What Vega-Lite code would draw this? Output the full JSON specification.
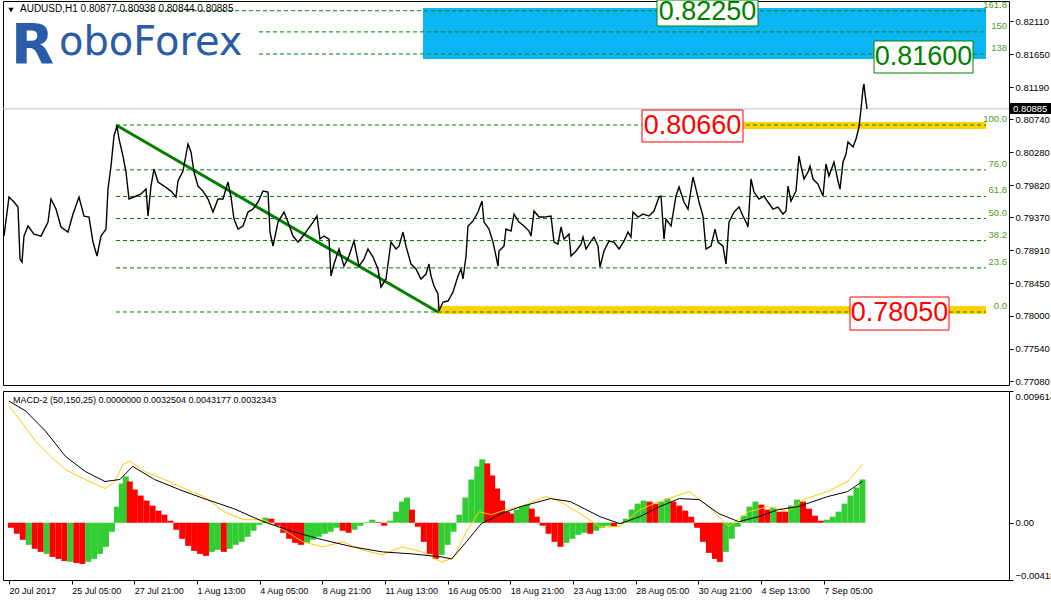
{
"$schema": "https://vega.github.io/schema/vega-lite/v6.json",
"padding": {"left": 0, "top": -3, "right": 0, "bottom": 0},
"background": "white",
"spacing": 3,
"config": {
  "view": {"stroke": "black", "strokeWidth": 1},
  "axis": {"labelFont": "Liberation Sans", "labelFontSize": 9.5, "labelColor": "black", "domainColor": "black", "tickColor": "black", "grid": false, "title": null},
  "text": {"font": "Liberation Sans"}
},
"resolve": {"scale": {"x": "independent", "y": "independent", "color": "independent", "stroke": "independent"}},
"datasets": {
  "price": [
{"x":3,"p":0.79110},{"x":8,"p":0.79655},{"x":13,"p":0.79585},{"x":17,"p":0.79515},{"x":19,"p":0.78789},{"x":21,"p":0.78747},{"x":23,"p":0.79110},{"x":27,"p":0.79250},{"x":33,"p":0.79138},{"x":40,"p":0.79110},{"x":47,"p":0.79305},{"x":50,"p":0.79627},{"x":55,"p":0.79487},{"x":60,"p":0.79236},{"x":67,"p":0.79166},{"x":72,"p":0.79417},{"x":78,"p":0.79655},{"x":83,"p":0.79389},{"x":88,"p":0.79375},{"x":92,"p":0.79026},{"x":96,"p":0.78831},{"x":100,"p":0.79110},{"x":105,"p":0.79208},{"x":107,"p":0.79766},{"x":110,"p":0.80088},{"x":113,"p":0.80507},{"x":116,"p":0.80646},{"x":118,"p":0.80465},{"x":122,"p":0.80227},{"x":125,"p":0.80004},{"x":128,"p":0.79627},{"x":133,"p":0.79655},{"x":140,"p":0.79697},{"x":145,"p":0.79766},{"x":147,"p":0.79389},{"x":150,"p":0.79808},{"x":153,"p":0.80046},{"x":157,"p":0.79864},{"x":163,"p":0.79808},{"x":170,"p":0.79738},{"x":175,"p":0.79655},{"x":177,"p":0.79878},{"x":182,"p":0.80018},{"x":187,"p":0.80395},{"x":190,"p":0.80283},{"x":193,"p":0.80004},{"x":197,"p":0.79808},{"x":202,"p":0.79738},{"x":207,"p":0.79627},{"x":212,"p":0.79445},{"x":217,"p":0.79627},{"x":222,"p":0.79627},{"x":227,"p":0.79864},{"x":230,"p":0.79655},{"x":233,"p":0.79347},{"x":237,"p":0.79208},{"x":242,"p":0.79250},{"x":247,"p":0.79445},{"x":252,"p":0.79487},{"x":257,"p":0.79585},{"x":262,"p":0.79738},{"x":267,"p":0.79724},{"x":269,"p":0.79166},{"x":272,"p":0.78970},{"x":277,"p":0.79305},{"x":283,"p":0.79445},{"x":287,"p":0.79305},{"x":292,"p":0.79110},{"x":297,"p":0.79026},{"x":302,"p":0.79110},{"x":307,"p":0.79208},{"x":312,"p":0.79305},{"x":316,"p":0.79389},{"x":319,"p":0.79068},{"x":323,"p":0.79110},{"x":328,"p":0.79068},{"x":330,"p":0.78552},{"x":333,"p":0.78719},{"x":338,"p":0.78929},{"x":343,"p":0.78691},{"x":348,"p":0.78831},{"x":353,"p":0.79040},{"x":358,"p":0.78691},{"x":363,"p":0.78789},{"x":367,"p":0.78929},{"x":372,"p":0.78817},{"x":377,"p":0.78650},{"x":380,"p":0.78399},{"x":385,"p":0.78511},{"x":390,"p":0.79026},{"x":395,"p":0.78929},{"x":398,"p":0.78970},{"x":402,"p":0.79166},{"x":405,"p":0.78970},{"x":410,"p":0.78719},{"x":415,"p":0.78650},{"x":420,"p":0.78511},{"x":425,"p":0.78580},{"x":428,"p":0.78719},{"x":430,"p":0.78552},{"x":433,"p":0.78413},{"x":437,"p":0.78301},{"x":438,"p":0.78064},{"x":442,"p":0.78189},{"x":447,"p":0.78203},{"x":452,"p":0.78329},{"x":457,"p":0.78552},{"x":460,"p":0.78650},{"x":462,"p":0.78511},{"x":465,"p":0.78831},{"x":467,"p":0.79250},{"x":472,"p":0.79319},{"x":477,"p":0.79445},{"x":481,"p":0.79599},{"x":483,"p":0.79305},{"x":488,"p":0.79208},{"x":492,"p":0.79026},{"x":495,"p":0.78831},{"x":497,"p":0.78691},{"x":498,"p":0.78901},{"x":503,"p":0.78970},{"x":505,"p":0.79208},{"x":510,"p":0.79180},{"x":513,"p":0.79417},{"x":518,"p":0.79305},{"x":523,"p":0.79250},{"x":528,"p":0.79180},{"x":530,"p":0.79110},{"x":533,"p":0.79459},{"x":538,"p":0.79375},{"x":543,"p":0.79375},{"x":550,"p":0.79389},{"x":553,"p":0.79026},{"x":557,"p":0.78998},{"x":560,"p":0.79236},{"x":563,"p":0.79068},{"x":568,"p":0.79138},{"x":570,"p":0.78831},{"x":575,"p":0.78901},{"x":580,"p":0.78998},{"x":582,"p":0.79096},{"x":585,"p":0.78929},{"x":590,"p":0.79040},{"x":593,"p":0.79096},{"x":597,"p":0.78970},{"x":599,"p":0.78678},{"x":603,"p":0.78901},{"x":608,"p":0.79040},{"x":613,"p":0.79026},{"x":618,"p":0.78929},{"x":623,"p":0.79040},{"x":627,"p":0.79166},{"x":630,"p":0.79096},{"x":632,"p":0.79445},{"x":637,"p":0.79375},{"x":642,"p":0.79417},{"x":648,"p":0.79389},{"x":653,"p":0.79459},{"x":658,"p":0.79655},{"x":660,"p":0.79669},{"x":663,"p":0.79068},{"x":665,"p":0.79347},{"x":670,"p":0.79250},{"x":675,"p":0.79669},{"x":678,"p":0.79794},{"x":683,"p":0.79585},{"x":687,"p":0.79487},{"x":692,"p":0.79934},{"x":695,"p":0.79766},{"x":698,"p":0.79585},{"x":702,"p":0.79389},{"x":705,"p":0.78929},{"x":710,"p":0.78970},{"x":714,"p":0.79208},{"x":717,"p":0.79026},{"x":722,"p":0.78970},{"x":725,"p":0.78719},{"x":728,"p":0.79305},{"x":733,"p":0.79445},{"x":738,"p":0.79515},{"x":742,"p":0.79389},{"x":745,"p":0.79305},{"x":747,"p":0.79236},{"x":750,"p":0.79906},{"x":753,"p":0.79724},{"x":758,"p":0.79627},{"x":763,"p":0.79669},{"x":767,"p":0.79585},{"x":772,"p":0.79487},{"x":777,"p":0.79515},{"x":782,"p":0.79417},{"x":785,"p":0.79459},{"x":787,"p":0.79808},{"x":790,"p":0.79599},{"x":795,"p":0.79738},{"x":798,"p":0.80227},{"x":800,"p":0.80088},{"x":803,"p":0.79906},{"x":807,"p":0.80004},{"x":809,"p":0.80088},{"x":812,"p":0.79906},{"x":817,"p":0.79836},{"x":822,"p":0.79669},{"x":825,"p":0.80116},{"x":828,"p":0.79948},{"x":833,"p":0.80144},{"x":837,"p":0.79878},{"x":839,"p":0.79766},{"x":842,"p":0.80144},{"x":845,"p":0.80255},{"x":847,"p":0.80423},{"x":852,"p":0.80353},{"x":855,"p":0.80465},{"x":858,"p":0.80632},{"x":860,"p":0.80884},{"x":862,"p":0.81163},{"x":863,"p":0.81233},{"x":864,"p":0.81093},{"x":866,"p":0.80885}
  ],
  "fib": [
{"x":115,"x2":985,"p":0.78050},{"x":115,"x2":985,"p":0.78666},{"x":115,"x2":985,"p":0.79047},{"x":115,"x2":985,"p":0.79355},{"x":115,"x2":985,"p":0.79663},{"x":115,"x2":985,"p":0.80034},{"x":115,"x2":985,"p":0.80660},{"x":258,"x2":985,"p":0.81652},{"x":258,"x2":985,"p":0.81960},{"x":115,"x2":985,"p":0.82255}
  ],
  "fibLabels": [
{"x":1006,"p":0.78050,"t":"0.0"},{"x":1006,"p":0.78666,"t":"23.6"},{"x":1006,"p":0.79047,"t":"38.2"},{"x":1006,"p":0.79355,"t":"50.0"},{"x":1006,"p":0.79663,"t":"61.8"},{"x":1006,"p":0.80034,"t":"76.0"},{"x":1006,"p":0.80660,"t":"100.0"},{"x":1006,"p":0.81652,"t":"138"},{"x":1006,"p":0.81960,"t":"150"},{"x":1006,"p":0.82255,"t":"161.8"}
  ],
  "blue": [{"x":422,"x2":985,"p":0.82293,"p2":0.81581}],
  "yellow": [{"x":742,"x2":985,"p":0.80702,"p2":0.80604},{"x":436,"x2":985,"p":0.78133,"p2":0.78022}],
  "cur": [{"x":2,"x2":1008,"p":0.80885}],
  "trend": [{"x":115,"x2":437,"p":0.80660,"p2":0.78050}],
  "boxes": [
{"x":656,"x2":757,"p":0.82405,"p2":0.82042,"c":"g"},{"x":873,"x2":972,"p":0.81833,"p2":0.81386,"c":"g"},{"x":641,"x2":742,"p":0.80869,"p2":0.80423,"c":"r"},{"x":849,"x2":948,"p":0.78259,"p2":0.77798,"c":"r"}
  ],
  "boxTexts": [
{"x":706.5,"p":0.82238,"t":"0.82250","c":"g"},{"x":922.5,"p":0.81609,"t":"0.81600","c":"g"},{"x":691.5,"p":0.80646,"t":"0.80660","c":"r"},{"x":898.5,"p":0.78036,"t":"0.78050","c":"r"}
  ],
  "header": [{"x":19,"p":0.82279,"t":"AUDUSD,H1  0.80877 0.80938 0.80844 0.80885"}],
  "tri": [{"x":10,"p":0.82265}],
  "logoR": [{"x":10,"p":0.81525,"t":"R"}],
  "logoT": [{"x":58,"p":0.81637,"t":"oboForex"}],
  "tagBox": [{"x":1009,"x2":1051,"p":0.80967,"p2":0.80814}],
  "tagText": [{"x":1012,"p":0.80885,"t":"0.80885"}],
  "hist": [
{"x":5,"v":-0.000367,"d":"d"},{"x":11,"v":-0.000807,"d":"d"},{"x":17,"v":-0.001247,"d":"d"},{"x":23,"v":-0.001614,"d":"u"},{"x":29,"v":-0.001908,"d":"d"},{"x":35,"v":-0.002128,"d":"d"},{"x":41,"v":-0.002275,"d":"u"},{"x":47,"v":-0.002495,"d":"d"},{"x":53,"v":-0.002642,"d":"d"},{"x":59,"v":-0.002788,"d":"d"},{"x":65,"v":-0.002862,"d":"u"},{"x":71,"v":-0.002935,"d":"d"},{"x":77,"v":-0.003009,"d":"d"},{"x":83,"v":-0.002862,"d":"u"},{"x":89,"v":-0.002642,"d":"u"},{"x":95,"v":-0.002275,"d":"u"},{"x":101,"v":-0.001761,"d":"u"},{"x":107,"v":-0.000660,"d":"u"},{"x":112,"v":0.001174,"d":"u"},{"x":117,"v":0.002862,"d":"u"},{"x":121,"v":0.003375,"d":"u"},{"x":125,"v":0.003009,"d":"d"},{"x":130,"v":0.002422,"d":"d"},{"x":136,"v":0.001981,"d":"d"},{"x":142,"v":0.001614,"d":"d"},{"x":148,"v":0.001247,"d":"d"},{"x":154,"v":0.000881,"d":"d"},{"x":160,"v":0.000587,"d":"d"},{"x":166,"v":0.000147,"d":"d"},{"x":172,"v":-0.000514,"d":"d"},{"x":178,"v":-0.001174,"d":"d"},{"x":184,"v":-0.001688,"d":"d"},{"x":190,"v":-0.002055,"d":"d"},{"x":196,"v":-0.002275,"d":"d"},{"x":202,"v":-0.002422,"d":"d"},{"x":208,"v":-0.002128,"d":"u"},{"x":214,"v":-0.001981,"d":"u"},{"x":220,"v":-0.002128,"d":"d"},{"x":226,"v":-0.001908,"d":"u"},{"x":232,"v":-0.001614,"d":"u"},{"x":238,"v":-0.001394,"d":"u"},{"x":244,"v":-0.001027,"d":"u"},{"x":250,"v":-0.000587,"d":"u"},{"x":256,"v":-0.000147,"d":"u"},{"x":262,"v":0.000367,"d":"u"},{"x":268,"v":0.000294,"d":"d"},{"x":274,"v":-0.000220,"d":"d"},{"x":280,"v":-0.000734,"d":"d"},{"x":286,"v":-0.001174,"d":"d"},{"x":292,"v":-0.001468,"d":"d"},{"x":298,"v":-0.001614,"d":"d"},{"x":304,"v":-0.001468,"d":"u"},{"x":310,"v":-0.001247,"d":"u"},{"x":316,"v":-0.001027,"d":"u"},{"x":322,"v":-0.000807,"d":"u"},{"x":328,"v":-0.000660,"d":"u"},{"x":334,"v":-0.000367,"d":"u"},{"x":340,"v":-0.000587,"d":"d"},{"x":346,"v":-0.000734,"d":"d"},{"x":352,"v":-0.000514,"d":"u"},{"x":358,"v":-0.000220,"d":"u"},{"x":364,"v":0.000050,"d":"u"},{"x":370,"v":0.000220,"d":"u"},{"x":376,"v":0.000050,"d":"d"},{"x":382,"v":-0.000220,"d":"d"},{"x":388,"v":0.000147,"d":"u"},{"x":394,"v":0.000807,"d":"u"},{"x":400,"v":0.001541,"d":"u"},{"x":405,"v":0.001835,"d":"u"},{"x":410,"v":0.000954,"d":"d"},{"x":416,"v":-0.000294,"d":"d"},{"x":422,"v":-0.001394,"d":"d"},{"x":428,"v":-0.002275,"d":"d"},{"x":434,"v":-0.002642,"d":"d"},{"x":440,"v":-0.002348,"d":"u"},{"x":446,"v":-0.001614,"d":"u"},{"x":452,"v":-0.000660,"d":"u"},{"x":458,"v":0.000587,"d":"u"},{"x":464,"v":0.001835,"d":"u"},{"x":470,"v":0.003155,"d":"u"},{"x":476,"v":0.004109,"d":"u"},{"x":481,"v":0.004623,"d":"u"},{"x":486,"v":0.004329,"d":"d"},{"x":491,"v":0.003449,"d":"d"},{"x":496,"v":0.002495,"d":"d"},{"x":501,"v":0.001614,"d":"d"},{"x":506,"v":0.000807,"d":"d"},{"x":511,"v":0.000660,"d":"d"},{"x":516,"v":0.000954,"d":"u"},{"x":521,"v":0.001174,"d":"u"},{"x":526,"v":0.001321,"d":"u"},{"x":531,"v":0.001027,"d":"d"},{"x":536,"v":0.000440,"d":"d"},{"x":542,"v":-0.000220,"d":"d"},{"x":548,"v":-0.000807,"d":"d"},{"x":554,"v":-0.001394,"d":"d"},{"x":560,"v":-0.001761,"d":"d"},{"x":566,"v":-0.001468,"d":"u"},{"x":572,"v":-0.001174,"d":"u"},{"x":578,"v":-0.000881,"d":"u"},{"x":584,"v":-0.000734,"d":"u"},{"x":590,"v":-0.000807,"d":"d"},{"x":596,"v":-0.000587,"d":"u"},{"x":602,"v":-0.000367,"d":"u"},{"x":608,"v":-0.000220,"d":"u"},{"x":614,"v":-0.000294,"d":"d"},{"x":620,"v":-0.000073,"d":"u"},{"x":626,"v":0.000294,"d":"u"},{"x":632,"v":0.000954,"d":"u"},{"x":638,"v":0.001394,"d":"u"},{"x":644,"v":0.001614,"d":"u"},{"x":650,"v":0.001541,"d":"d"},{"x":656,"v":0.001394,"d":"d"},{"x":662,"v":0.001541,"d":"u"},{"x":668,"v":0.001761,"d":"u"},{"x":674,"v":0.001541,"d":"d"},{"x":680,"v":0.001247,"d":"d"},{"x":686,"v":0.000881,"d":"d"},{"x":692,"v":0.000440,"d":"d"},{"x":698,"v":-0.000367,"d":"d"},{"x":704,"v":-0.001394,"d":"d"},{"x":710,"v":-0.002201,"d":"d"},{"x":716,"v":-0.002642,"d":"d"},{"x":721,"v":-0.002862,"d":"d"},{"x":727,"v":-0.002128,"d":"u"},{"x":733,"v":-0.001174,"d":"u"},{"x":739,"v":-0.000294,"d":"u"},{"x":745,"v":0.000514,"d":"u"},{"x":751,"v":0.001174,"d":"u"},{"x":757,"v":0.001541,"d":"u"},{"x":763,"v":0.001321,"d":"d"},{"x":769,"v":0.000954,"d":"d"},{"x":775,"v":0.001101,"d":"u"},{"x":781,"v":0.000807,"d":"d"},{"x":787,"v":0.000807,"d":"d"},{"x":793,"v":0.001247,"d":"u"},{"x":799,"v":0.001688,"d":"u"},{"x":805,"v":0.001541,"d":"d"},{"x":811,"v":0.001027,"d":"d"},{"x":817,"v":0.000514,"d":"d"},{"x":823,"v":0.000147,"d":"d"},{"x":829,"v":0.000220,"d":"u"},{"x":835,"v":0.000440,"d":"u"},{"x":841,"v":0.000807,"d":"u"},{"x":847,"v":0.001394,"d":"u"},{"x":853,"v":0.001981,"d":"u"},{"x":859,"v":0.002568,"d":"u"},{"x":865,"v":0.003155,"d":"u"}
  ],
  "sig": [
{"x":3,"v":0.008879},{"x":20,"v":0.008145},{"x":40,"v":0.006678},{"x":60,"v":0.004843},{"x":80,"v":0.003742},{"x":100,"v":0.003009},{"x":115,"v":0.003155},{"x":128,"v":0.004109},{"x":150,"v":0.003155},{"x":175,"v":0.002422},{"x":200,"v":0.001761},{"x":230,"v":0.001027},{"x":260,"v":0.000073},{"x":290,"v":-0.000660},{"x":320,"v":-0.001247},{"x":350,"v":-0.001761},{"x":380,"v":-0.002128},{"x":410,"v":-0.002275},{"x":440,"v":-0.002495},{"x":450,"v":-0.002642},{"x":465,"v":-0.001394},{"x":480,"v":-0.000073},{"x":500,"v":0.000660},{"x":520,"v":0.001174},{"x":550,"v":0.001761},{"x":570,"v":0.001541},{"x":600,"v":0.000440},{"x":620,"v":-0.000073},{"x":640,"v":0.000440},{"x":660,"v":0.001174},{"x":680,"v":0.001761},{"x":700,"v":0.001688},{"x":720,"v":0.000660},{"x":740,"v":0.000073},{"x":760,"v":0.000440},{"x":780,"v":0.000954},{"x":800,"v":0.001174},{"x":830,"v":0.001908},{"x":850,"v":0.002275},{"x":865,"v":0.003009}
  ],
  "macd": [
{"x":3,"v":0.008512},{"x":15,"v":0.007411},{"x":30,"v":0.005944},{"x":45,"v":0.004843},{"x":60,"v":0.003889},{"x":80,"v":0.003155},{"x":100,"v":0.002495},{"x":110,"v":0.003009},{"x":118,"v":0.004256},{"x":125,"v":0.004476},{"x":140,"v":0.003742},{"x":160,"v":0.003155},{"x":180,"v":0.002495},{"x":200,"v":0.001908},{"x":220,"v":0.000807},{"x":240,"v":0.000220},{"x":260,"v":0.000220},{"x":280,"v":-0.000514},{"x":300,"v":-0.001394},{"x":320,"v":-0.001761},{"x":340,"v":-0.001394},{"x":360,"v":-0.001981},{"x":380,"v":-0.002348},{"x":400,"v":-0.001761},{"x":420,"v":-0.002128},{"x":440,"v":-0.002862},{"x":452,"v":-0.002568},{"x":465,"v":-0.000660},{"x":478,"v":0.000807},{"x":490,"v":0.000587},{"x":505,"v":0.000954},{"x":520,"v":0.001174},{"x":545,"v":0.001908},{"x":560,"v":0.001541},{"x":580,"v":0.000660},{"x":600,"v":-0.000294},{"x":620,"v":-0.000294},{"x":640,"v":0.000954},{"x":660,"v":0.001541},{"x":690,"v":0.002275},{"x":710,"v":0.001174},{"x":730,"v":-0.000294},{"x":750,"v":0.000807},{"x":770,"v":0.001174},{"x":790,"v":0.000807},{"x":805,"v":0.001688},{"x":830,"v":0.002275},{"x":850,"v":0.003009},{"x":865,"v":0.004256}
  ],
  "macdLabel": [{"x":7,"v":0.00896,"t":"MACD-2 (50,150,25) 0.0000000 0.0032504 0.0043177 0.0032343"}]
},
"vconcat": [
{
  "width": 1006, "height": 384,
  "encoding": {
    "x": {"field": "x", "type": "quantitative", "scale": {"domain": [2, 1008], "nice": false, "zero": false}, "axis": null},
    "y": {"field": "p", "type": "quantitative", "scale": {"domain": [0.77031, 0.82391], "nice": false, "zero": false},
          "axis": {"orient": "right", "values": [0.7708,0.7754,0.78,0.7845,0.7891,0.7937,0.7982,0.8028,0.8074,0.8119,0.8165,0.8211], "format": ".5f", "tickSize": 4, "labelPadding": 2, "domain": false}}
  },
  "layer": [
    {"data": {"name": "blue"}, "mark": {"type": "rect", "color": "#0cb6f4"}, "encoding": {"x2": {"field": "x2"}, "y2": {"field": "p2"}}},
    {"data": {"name": "yellow"}, "mark": {"type": "rect", "color": "#ffd200"}, "encoding": {"x2": {"field": "x2"}, "y2": {"field": "p2"}}},
    {"data": {"name": "cur"}, "mark": {"type": "rule", "color": "#c0c0c0", "strokeWidth": 1}, "encoding": {"x2": {"field": "x2"}}},
    {"data": {"name": "fib"}, "mark": {"type": "rule", "color": "#008000", "strokeWidth": 1, "strokeDash": [4, 3]}, "encoding": {"x2": {"field": "x2"}}},
    {"data": {"name": "trend"}, "mark": {"type": "rule", "color": "#008000", "strokeWidth": 3}, "encoding": {"x2": {"field": "x2"}, "y2": {"field": "p2"}}},
    {"data": {"name": "price"}, "mark": {"type": "line", "color": "black", "strokeWidth": 1.4}, "encoding": {}},
    {"data": {"name": "fibLabels"}, "mark": {"type": "text", "align": "right", "baseline": "bottom", "dy": -1, "fontSize": 9.5, "color": "#4f9a1f"}, "encoding": {"text": {"field": "t"}}},
    {"data": {"name": "boxes"}, "mark": {"type": "rect", "fill": "white", "strokeWidth": 1}, "encoding": {"x2": {"field": "x2"}, "y2": {"field": "p2"}, "stroke": {"field": "c", "type": "nominal", "scale": {"domain": ["g", "r"], "range": ["#008000", "#ff0000"]}, "legend": null}}},
    {"data": {"name": "boxTexts"}, "mark": {"type": "text", "align": "center", "baseline": "middle", "fontSize": 27, "font": "Liberation Sans"}, "encoding": {"text": {"field": "t"}, "color": {"field": "c", "type": "nominal", "scale": {"domain": ["g", "r"], "range": ["#008000", "#ff0000"]}, "legend": null}}},
    {"data": {"name": "header"}, "mark": {"type": "text", "align": "left", "baseline": "middle", "fontSize": 10, "color": "black"}, "encoding": {"text": {"field": "t"}}},
    {"data": {"name": "tri"}, "mark": {"type": "point", "shape": "triangle-down", "filled": true, "size": 28, "color": "black", "opacity": 1}, "encoding": {}},
    {"data": {"name": "logoR"}, "mark": {"type": "text", "align": "left", "baseline": "alphabetic", "fontSize": 56, "font": "DejaVu Sans", "fontWeight": "bold", "color": "#2a5ca8"}, "encoding": {"text": {"field": "t"}}},
    {"data": {"name": "logoT"}, "mark": {"type": "text", "align": "left", "baseline": "alphabetic", "fontSize": 40, "font": "DejaVu Sans", "color": "#2a5ca8"}, "encoding": {"text": {"field": "t"}}},
    {"data": {"name": "tagBox"}, "mark": {"type": "rect", "color": "black"}, "encoding": {"x2": {"field": "x2"}, "y2": {"field": "p2"}}},
    {"data": {"name": "tagText"}, "mark": {"type": "text", "align": "left", "baseline": "middle", "fontSize": 9.5, "color": "white"}, "encoding": {"text": {"field": "t"}}}
  ]
},
{
  "width": 1006, "height": 189,
  "encoding": {
    "x": {"field": "x", "type": "quantitative", "scale": {"domain": [2, 1008], "nice": false, "zero": false},
          "axis": {"orient": "bottom", "values": [3, 66.3, 129.6, 192.9, 256.2, 319.5, 382.8, 446.1, 509.4, 572.7, 636, 699.3, 762.6, 825.9],
                   "labelExpr": "['20 Jul 2017','25 Jul 05:00','27 Jul 21:00','1 Aug 13:00','4 Aug 05:00','8 Aug 21:00','11 Aug 13:00','16 Aug 05:00','18 Aug 21:00','23 Aug 13:00','28 Aug 05:00','30 Aug 21:00','4 Sep 13:00','7 Sep 05:00'][round((datum.value-3)/63.3)]",
                   "labelAlign": "left", "labelBaseline": "top", "labelDx": 1, "labelPadding": 2, "labelFontSize": 9, "tickSize": 4, "labelOverlap": false, "labelFlush": false, "domain": false}},
    "y": {"field": "v", "type": "quantitative", "scale": {"domain": [-0.004181, 0.009614], "nice": false, "zero": false},
          "axis": {"orient": "right", "values": [-0.004181, 0, 0.009614], "labelExpr": "datum.value == 0 ? '0.00' : format(datum.value, '.6f')", "labelFlush": true, "tickSize": 4, "labelPadding": 2, "domain": false}}
  },
  "layer": [
    {"data": {"name": "hist"}, "mark": {"type": "bar", "size": 6}, "encoding": {"y2": {"datum": 0}, "color": {"field": "d", "type": "nominal", "scale": {"domain": ["u", "d"], "range": ["#32cd32", "#ff0000"]}, "legend": null}}},
    {"data": {"name": "macd"}, "mark": {"type": "line", "color": "#ffcc00", "strokeWidth": 1}, "encoding": {}},
    {"data": {"name": "sig"}, "mark": {"type": "line", "color": "black", "strokeWidth": 1}, "encoding": {}},
    {"data": {"name": "macdLabel"}, "mark": {"type": "text", "align": "left", "baseline": "middle", "fontSize": 9, "color": "black"}, "encoding": {"text": {"field": "t"}}}
  ]
}
]
}
